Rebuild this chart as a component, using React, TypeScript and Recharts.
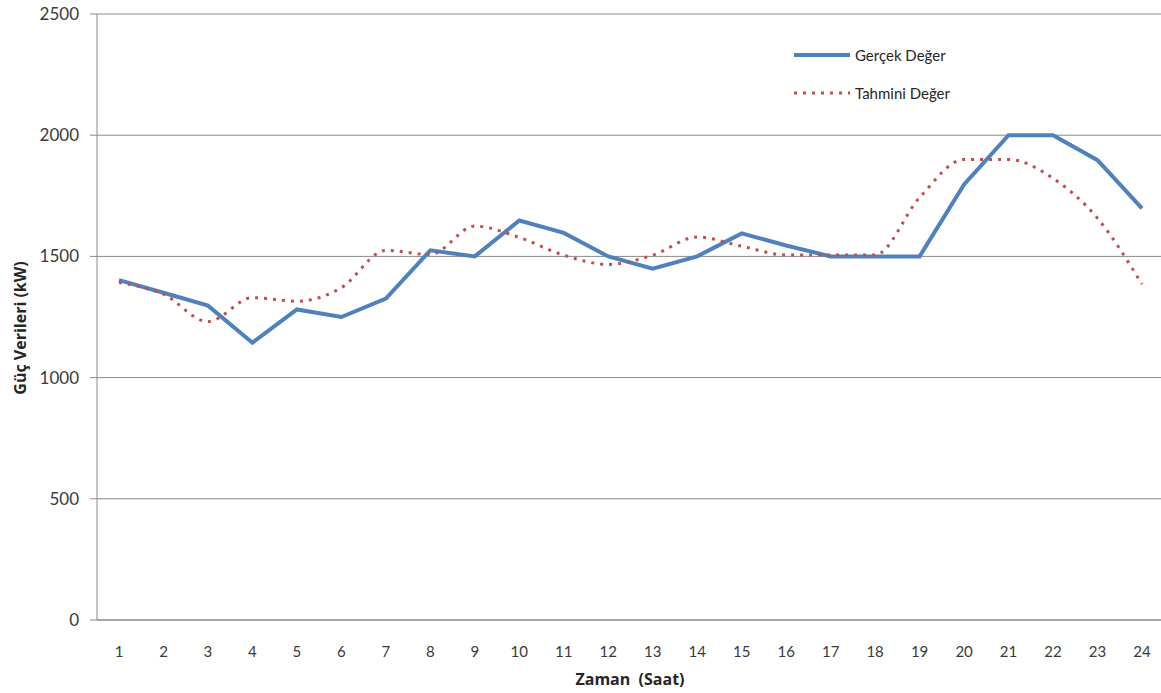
import { LineChart, Line, XAxis, YAxis, CartesianGrid, Legend } from "recharts";

const hours = ["1", "2", "3", "4", "5", "6", "7", "8", "9", "10", "11", "12", "13", "14", "15", "16", "17", "18", "19", "20", "21", "22", "23", "24"];
const actual = [1402, 1350, 1297, 1144, 1281, 1250, 1326, 1525, 1500, 1648, 1597, 1500, 1449, 1500, 1595, 1545, 1500, 1500, 1500, 1797, 2000, 2000, 1897, 1698];
const predicted = [1392, 1344, 1231, 1330, 1315, 1371, 1525, 1508, 1625, 1578, 1505, 1467, 1505, 1580, 1542, 1506, 1506, 1506, 1743, 1900, 1900, 1822, 1657, 1385];
const yTicks = [0, 500, 1000, 1500, 2000, 2500];

const data = hours.map((h, i) => ({ hour: h, actual: actual[i], predicted: predicted[i] }));

const FONT = "Lato, 'Open Sans', sans-serif";
const TITLE_FONT = "'Open Sans', Lato, sans-serif";
const TEXT = "#3a3a3a";
const GRID = "#8a8a8a";
const BLUE = "#4f81bd";
const RED = "#c0504d";

// legend drawn inside the plot, top right
const renderLegend = (props: any) => {
  const items = props.payload || [];
  return (
    <div style={{ fontFamily: FONT, fontSize: 15, color: "#262626" }}>
      {items.map((item: any, i: number) => (
        <div key={item.value} style={{ display: "flex", alignItems: "center", height: 38 }}>
          <svg width={58} height={10} style={{ marginRight: 4 }}>
            <line
              x1={1}
              y1={5}
              x2={57}
              y2={5}
              stroke={item.color}
              strokeWidth={i === 0 ? 4 : 3}
              strokeDasharray={i === 0 ? undefined : "3 6"}
            />
          </svg>
          <span>{item.value}</span>
        </div>
      ))}
    </div>
  );
};

export default function App() {
  return (
    <div style={{ position: "absolute", left: 0, top: 0, width: 1161, height: 693, background: "#fff" }}>
      <LineChart width={1161} height={693} data={data} margin={{ top: 14, right: -3, bottom: 33, left: 20 }}>
        <CartesianGrid vertical={false} stroke={GRID} />
        <XAxis
          dataKey="hour"
          stroke={GRID}
          tickLine={false}
          tickMargin={20}
          height={40}
          padding={{ left: 22, right: 22 }}
          tick={{ fill: TEXT, fontSize: 15, fontFamily: FONT }}
          interval={0}
        />
        <YAxis
          domain={[0, 2500]}
          ticks={yTicks}
          width={77}
          stroke={GRID}
          tickSize={7}
          tickMargin={11}
          tick={{ fill: TEXT, fontSize: 17, fontFamily: FONT }}
        />
        <Legend
          content={renderLegend}
          layout="vertical"
          verticalAlign="middle"
          align="center"
          wrapperStyle={{ top: 36, left: 793, width: 220 }}
        />
        <Line
          type="linear"
          dataKey="actual"
          name="Gerçek Değer"
          stroke={BLUE}
          strokeWidth={4}
          dot={false}
          isAnimationActive={false}
        />
        <Line
          type="monotone"
          dataKey="predicted"
          name="Tahmini Değer"
          stroke={RED}
          strokeWidth={3}
          strokeDasharray="3 6"
          dot={false}
          isAnimationActive={false}
        />
      </LineChart>
      <div
        style={{
          position: "absolute",
          left: 20,
          top: 328,
          transform: "translate(-50%, -50%) rotate(-90deg)",
          fontFamily: TITLE_FONT,
          fontWeight: 700,
          fontSize: 16,
          color: "#262626",
          whiteSpace: "nowrap",
        }}
      >
        Güç Verileri (kW)
      </div>
      <div
        style={{
          position: "absolute",
          left: 630,
          top: 679,
          transform: "translate(-50%, -50%)",
          fontFamily: TITLE_FONT,
          fontWeight: 700,
          fontSize: 16,
          color: "#262626",
          whiteSpace: "pre",
        }}
      >
        Zaman  (Saat)
      </div>
    </div>
  );
}
